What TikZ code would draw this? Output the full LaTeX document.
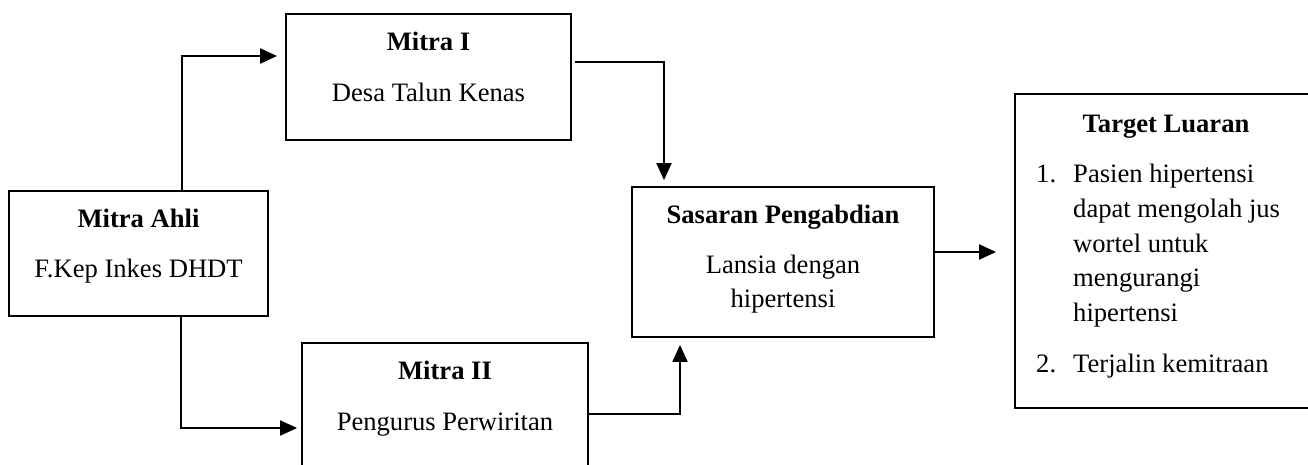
\documentclass[tikz,border=0pt]{standalone}
\usepackage{fontspec}
\setmainfont{Liberation Serif}
\usetikzlibrary{arrows.meta}
\tikzset{
  box/.style={draw=black, line width=1.8pt, rectangle, inner sep=0pt, fill=none},
  txt/.style={anchor=base, inner sep=0pt, font=\fontsize{26.6}{33}\selectfont},
  ttl/.style={txt, font=\fontsize{26.6}{33}\selectfont\bfseries},
  lst/.style={txt, anchor=base west},
  arr/.style={line width=2pt, -{Triangle[length=17pt,width=15pt]}},
}
\begin{document}
\begin{tikzpicture}[x=1pt,y=-1pt]
\clip (0,0) rectangle (1308,464);
\fill[white] (0,0) rectangle (1308,464);
% boxes
\node[box, minimum width=259pt, minimum height=125pt] (ahli) at (138.5,253.5) {};
\node[box, minimum width=285pt, minimum height=126pt] (m1) at (428.5,77) {};
\node[box, minimum width=286pt, minimum height=137pt] (m2) at (445,411.5) {};
\node[box, minimum width=302pt, minimum height=150pt] (sas) at (783,262) {};
\node[box, minimum width=305pt, minimum height=314pt] (tgt) at (1167.5,251) {};
% texts
\node[ttl] (ahliT) at (138.5,227) {Mitra Ahli};
\node[txt] (ahliS) at (138.5,277) {F.Kep Inkes DHDT};
\node[ttl] (m1T) at (428.5,50) {Mitra I};
\node[txt] (m1S) at (428.5,101) {Desa Talun Kenas};
\node[ttl] (m2T) at (445,379) {Mitra II};
\node[txt] (m2S) at (445,430) {Pengurus Perwiritan};
\node[ttl] (sasT) at (783,223) {Sasaran Pengabdian};
\node[txt] (sasS1) at (783,273) {Lansia dengan};
\node[txt] (sasS2) at (783,307) {hipertensi};
\node[ttl] (tgtT) at (1166,132) {Target Luaran};
\node[lst] (n1) at (1036,182) {1.};
\node[lst] (l1) at (1073,182) {Pasien hipertensi};
\node[lst] (l2) at (1073,217) {dapat mengolah jus};
\node[lst] (l3) at (1073,252) {wortel untuk};
\node[lst] (l4) at (1073,286) {mengurangi};
\node[lst] (l5) at (1073,321) {hipertensi};
\node[lst] (n2) at (1036,372) {2.};
\node[lst] (l6) at (1073,372) {Terjalin kemitraan};
% connectors
\draw[arr, shorten >=8pt] (ahli.north -| 182,0) |- (m1.west |- 0,56);
\draw[arr, shorten >=4pt] (ahli.south -| 181,0) |- (m2.west |- 0,428);
\draw[arr, shorten >=6pt, shorten <=3pt] (m1.east |- 0,62) -| (sas.north -| 664,0);
\draw[arr, shorten >=7pt] (m2.east |- 0,414) -| (sas.south -| 680,0);
\draw[arr, shorten >=18pt] (sas.east |- 0,252) -- (tgt.west |- 0,252);
\end{tikzpicture}
\end{document}
